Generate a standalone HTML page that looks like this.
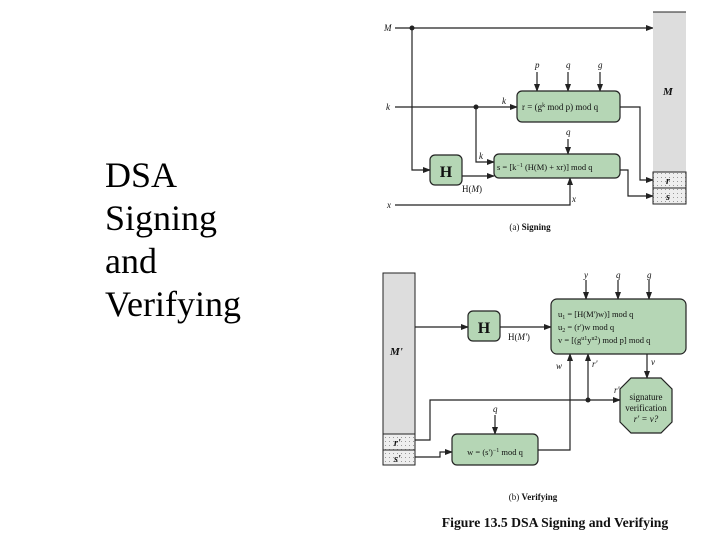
<!DOCTYPE html>
<html><head><style>
body{margin:0;width:720px;height:540px;background:#fff;overflow:hidden;font-family:"Liberation Serif",serif}
.t{position:absolute;left:105px;top:154px;font-size:36px;line-height:43px;color:#000}
</style></head><body>
<div class="t">DSA<br>Signing<br>and<br>Verifying</div>
<svg width="720" height="540" style="position:absolute;left:0;top:0" font-family="Liberation Serif, serif">
<defs>
<marker id="a" markerWidth="8" markerHeight="6" refX="7" refY="3" orient="auto" markerUnits="userSpaceOnUse"><path d="M0,0L8,3L0,6z" fill="#222"/></marker>
<pattern id="d" width="4" height="4" patternUnits="userSpaceOnUse"><rect width="4" height="4" fill="#eee"/><rect x="1" y="1" width="1" height="1" fill="#999"/></pattern>
</defs>
<g stroke="#222" stroke-width="1.2" fill="none">
<line x1="395" y1="28" x2="653" y2="28" marker-end="url(#a)"/>
<polyline points="412,28 412,170 430,170" marker-end="url(#a)"/>
<line x1="395" y1="107" x2="517" y2="107" marker-end="url(#a)"/>
<polyline points="476,107 476,162 494,162" marker-end="url(#a)"/>
<line x1="537" y1="72" x2="537" y2="91" marker-end="url(#a)"/>
<line x1="568" y1="72" x2="568" y2="91" marker-end="url(#a)"/>
<line x1="600" y1="72" x2="600" y2="91" marker-end="url(#a)"/>
<polyline points="620,107 640,107 640,180 653,180" marker-end="url(#a)"/>
<line x1="568" y1="139" x2="568" y2="154" marker-end="url(#a)"/>
<line x1="462" y1="176" x2="494" y2="176" marker-end="url(#a)"/>
<polyline points="620,170 628,170 628,196 653,196" marker-end="url(#a)"/>
<polyline points="395,205 570,205 570,178" marker-end="url(#a)"/>
<line x1="415" y1="327" x2="468" y2="327" marker-end="url(#a)"/>
<line x1="500" y1="327" x2="551" y2="327" marker-end="url(#a)"/>
<line x1="586" y1="280" x2="586" y2="299" marker-end="url(#a)"/>
<line x1="618" y1="280" x2="618" y2="299" marker-end="url(#a)"/>
<line x1="649" y1="280" x2="649" y2="299" marker-end="url(#a)"/>
<line x1="647" y1="354" x2="647" y2="378" marker-end="url(#a)"/>
<polyline points="415,440 430,440 430,400 620,400" marker-end="url(#a)"/>
<line x1="588" y1="400" x2="588" y2="354" marker-end="url(#a)"/>
<line x1="495" y1="415" x2="495" y2="434" marker-end="url(#a)"/>
<polyline points="415,457 440,457 440,452 452,452" marker-end="url(#a)"/>
<polyline points="538,450 570,450 570,354" marker-end="url(#a)"/>
</g>
<circle cx="412" cy="28" r="2.5" fill="#222"/>
<circle cx="476" cy="107" r="2.5" fill="#222"/>
<circle cx="588" cy="400" r="2.5" fill="#222"/>
<rect x="653" y="12" width="33" height="160" fill="#ddd"/>
<line x1="653" y1="12" x2="686" y2="12" stroke="#222"/>
<rect x="653" y="172" width="33" height="32" fill="url(#d)" stroke="#222" stroke-width="1"/>
<line x1="653" y1="188" x2="686" y2="188" stroke="#222"/>
<g fill="#b5d6b5" stroke="#222" stroke-width="1.2">
<rect x="517" y="91" width="103" height="31" rx="5"/>
<rect x="494" y="154" width="126" height="24" rx="5"/>
<rect x="430" y="155" width="32" height="30" rx="5"/>
<rect x="468" y="311" width="32" height="30" rx="5"/>
<rect x="551" y="299" width="135" height="55" rx="6"/>
<rect x="452" y="434" width="86" height="31" rx="5"/>
<polygon points="631,378 661,378 672,389 672,422 661,433 631,433 620,422 620,389"/>
</g>
<rect x="383" y="273" width="32" height="161" fill="#ddd" stroke="#222" stroke-width="1"/>
<rect x="383" y="434" width="32" height="31" fill="url(#d)" stroke="#222" stroke-width="1"/>
<line x1="383" y1="450" x2="415" y2="450" stroke="#222"/>
<g font-size="9" font-style="italic" fill="#111">
<text x="384" y="31">M</text>
<text x="386" y="110">k</text>
<text x="387" y="208">x</text>
<text x="502" y="104">k</text>
<text x="479" y="159">k</text>
<text x="535" y="68">p</text>
<text x="566" y="68">q</text>
<text x="598" y="68">g</text>
<text x="566" y="135">q</text>
<text x="572" y="202">x</text>
<text x="584" y="278">y</text>
<text x="616" y="278">q</text>
<text x="647" y="278">g</text>
<text x="651" y="365">v</text>
<text x="556" y="369">w</text>
<text x="592" y="367">r'</text>
<text x="614" y="393">r'</text>
<text x="493" y="412">q</text>
</g>
<g font-size="9" fill="#111">
<text x="522" y="110">r = (g<tspan font-size="6" dy="-3">k</tspan><tspan dy="3"> mod p) mod q</tspan></text>
<text x="497" y="170" font-size="8.5">s = [k<tspan font-size="6" dy="-3">−1</tspan><tspan dy="3"> (H(M) + xr)] mod q</tspan></text>
<text x="462" y="192">H(<tspan font-style="italic">M</tspan>)</text>
<text x="508" y="340">H(<tspan font-style="italic">M'</tspan>)</text>
<text x="558" y="317" font-size="8.5">u<tspan font-size="6" dy="2">1</tspan><tspan dy="-2"> = [H(M')w)] mod q</tspan></text>
<text x="558" y="330" font-size="8.5">u<tspan font-size="6" dy="2">2</tspan><tspan dy="-2"> = (r')w mod q</tspan></text>
<text x="558" y="343" font-size="8.5">v = [(g<tspan font-size="6" dy="-3">u1</tspan><tspan dy="3">y</tspan><tspan font-size="6" dy="-3">u2</tspan><tspan dy="3">) mod p] mod q</tspan></text>
<text x="495" y="455" font-size="8.5" text-anchor="middle">w = (s')<tspan font-size="6" dy="-3">−1</tspan><tspan dy="3"> mod q</tspan></text>
<text x="646" y="400" text-anchor="middle">signature</text>
<text x="646" y="411" text-anchor="middle">verification</text>
<text x="646" y="422" text-anchor="middle" font-style="italic">r' = v?</text>
<text x="530" y="230" text-anchor="middle">(a) <tspan font-weight="bold">Signing</tspan></text>
<text x="533" y="500" text-anchor="middle">(b) <tspan font-weight="bold">Verifying</tspan></text>
<text x="555" y="527" text-anchor="middle" font-size="13.7" font-weight="bold">Figure 13.5  DSA Signing and Verifying</text>
</g>
<g font-weight="bold" fill="#111">
<text x="446" y="177" font-size="16" text-anchor="middle">H</text>
<text x="484" y="333" font-size="16" text-anchor="middle">H</text>
<text x="663" y="95" font-size="11" font-style="italic">M</text>
<text x="390" y="355" font-size="11" font-style="italic">M'</text>
<text x="666" y="184" font-size="10" font-style="italic">r</text>
<text x="666" y="200" font-size="10" font-style="italic">s</text>
<text x="394" y="446" font-size="10" font-style="italic">r'</text>
<text x="394" y="462" font-size="10" font-style="italic">s'</text>
</g>
</svg>
</body></html>
